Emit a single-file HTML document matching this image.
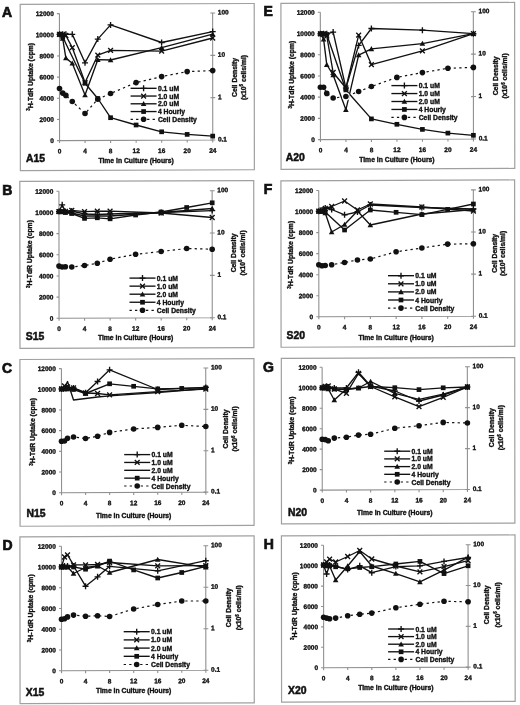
<!DOCTYPE html>
<html><head><meta charset="utf-8"><style>
html,body{margin:0;padding:0;background:#fff;}
svg{display:block;will-change:transform;}
text{font-family:"Liberation Sans", sans-serif;font-weight:bold;fill:#111;stroke:#111;stroke-width:0.35px;}
.tk{font-size:6.5px;}
.tt{font-size:6.8px;}
.sup{font-size:4.5px;}
.let{font-size:14px;stroke-width:0.7px;}
.nm{font-size:10.4px;stroke-width:0.5px;}
.box{fill:none;stroke:#a0a0a0;stroke-width:1.2;}
.ax{fill:none;stroke:#909090;stroke-width:1.1;}
.ln{fill:none;stroke:#111;stroke-width:1.35;stroke-linejoin:round;}
.dl{fill:none;stroke:#111;stroke-width:1.2;stroke-dasharray:2.3 3.2;}
.mk{fill:none;stroke:#111;stroke-width:1.35;}
.fm{fill:#111;stroke:none;}
</style></head><body>
<svg width="520" height="705" viewBox="0 0 520 705">
<g transform="matrix(1,-0.0038,0.001,1,-0.09,0.52)">
<rect x="20.3" y="3.95" width="234" height="166.25" class="box"/>
<path d="M59.5 13.3V140.3H212.7M212.7 13.3V140.3" class="ax"/>
<text x="53.9" y="142.7" class="tk" text-anchor="end">0</text>
<text x="53.9" y="121.53" class="tk" text-anchor="end">2000</text>
<text x="53.9" y="100.37" class="tk" text-anchor="end">4000</text>
<text x="53.9" y="79.2" class="tk" text-anchor="end">6000</text>
<text x="53.9" y="58.03" class="tk" text-anchor="end">8000</text>
<text x="53.9" y="36.87" class="tk" text-anchor="end">10000</text>
<text x="53.9" y="15.7" class="tk" text-anchor="end">12000</text>
<text x="217.9" y="141.8" class="tk">0.1</text>
<text x="217.9" y="99.47" class="tk">1</text>
<text x="217.9" y="57.13" class="tk">10</text>
<text x="217.9" y="14.8" class="tk">100</text>
<text x="59.5" y="153.1" class="tk" text-anchor="middle">0</text>
<text x="85.03" y="153.1" class="tk" text-anchor="middle">4</text>
<text x="110.57" y="153.1" class="tk" text-anchor="middle">8</text>
<text x="136.1" y="153.1" class="tk" text-anchor="middle">12</text>
<text x="161.63" y="153.1" class="tk" text-anchor="middle">16</text>
<text x="187.17" y="153.1" class="tk" text-anchor="middle">20</text>
<text x="212.7" y="153.1" class="tk" text-anchor="middle">24</text>
<path d="M57 140.3H59.5M57 119.13H59.5M57 97.97H59.5M57 76.8H59.5M57 55.63H59.5M57 34.47H59.5M57 13.3H59.5M210.4 140.3H215.2M210.4 97.97H215.2M210.4 55.63H215.2M210.4 13.3H215.2M59.5 140.3V142.8M85.03 140.3V142.8M110.57 140.3V142.8M136.1 140.3V142.8M161.63 140.3V142.8M187.17 140.3V142.8M212.7 140.3V142.8" class="ax"/>
</g>
<text x="2" y="17" class="let">A</text>
<text transform="translate(32.6 76.8) rotate(-90)" class="tt" text-anchor="middle"><tspan class="sup" dy="-2.2">3</tspan><tspan dy="2.2">H-TdR Uptake (cpm)</tspan></text>
<text transform="translate(236.9 77.5) rotate(-90)" class="tt" text-anchor="middle">Cell Density</text>
<text transform="translate(245.65 77.5) rotate(-90)" class="tt" text-anchor="middle">(x10<tspan class="sup" dy="-2.2">6</tspan><tspan dy="2.2"> cells/ml)</tspan></text>
<text x="136.1" y="163.2" class="tt" text-anchor="middle">Time in Culture (Hours)</text>
<text x="26" y="161.8" class="nm">A15</text>
<polyline points="59.5,88.5 62.69,93.1 65.88,95.4 72.27,101.5 85.03,113.5 97.8,99.2 110.57,93.5 136.1,82.6 161.63,76.6 187.17,71.6 212.7,70.6" class="dl"/>
<circle cx="59.5" cy="88.5" r="2.8" class="fm"/>
<circle cx="62.69" cy="93.1" r="2.8" class="fm"/>
<circle cx="65.88" cy="95.4" r="2.8" class="fm"/>
<circle cx="72.27" cy="101.5" r="2.8" class="fm"/>
<circle cx="85.03" cy="113.5" r="2.8" class="fm"/>
<circle cx="97.8" cy="99.2" r="2.8" class="fm"/>
<circle cx="110.57" cy="93.5" r="2.8" class="fm"/>
<circle cx="136.1" cy="82.6" r="2.8" class="fm"/>
<circle cx="161.63" cy="76.6" r="2.8" class="fm"/>
<circle cx="187.17" cy="71.6" r="2.8" class="fm"/>
<circle cx="212.7" cy="70.6" r="2.8" class="fm"/>
<polyline points="59.5,34.3 62.69,37 85.03,83.3 97.8,98.5 110.57,117.7 136.1,125 161.63,131.8 187.17,134.4 212.7,136.1" class="ln"/>
<rect x="57.15" y="31.95" width="4.7" height="4.7" class="fm"/>
<rect x="60.34" y="34.65" width="4.7" height="4.7" class="fm"/>
<rect x="82.68" y="80.95" width="4.7" height="4.7" class="fm"/>
<rect x="95.45" y="96.15" width="4.7" height="4.7" class="fm"/>
<rect x="108.22" y="115.35" width="4.7" height="4.7" class="fm"/>
<rect x="133.75" y="122.65" width="4.7" height="4.7" class="fm"/>
<rect x="159.28" y="129.45" width="4.7" height="4.7" class="fm"/>
<rect x="184.82" y="132.05" width="4.7" height="4.7" class="fm"/>
<rect x="210.35" y="133.75" width="4.7" height="4.7" class="fm"/>
<polyline points="59.5,34.3 62.69,38.5 65.88,58.1 72.27,63.2 85.03,95.1 97.8,59.7 110.57,60 161.63,47.7 212.7,34.2" class="ln"/>
<path d="M59.5 31.5L62.3 36.54L56.7 36.54Z" class="fm"/>
<path d="M62.69 35.7L65.49 40.74L59.89 40.74Z" class="fm"/>
<path d="M65.88 55.3L68.68 60.34L63.08 60.34Z" class="fm"/>
<path d="M72.27 60.4L75.07 65.44L69.47 65.44Z" class="fm"/>
<path d="M85.03 92.3L87.83 97.34L82.23 97.34Z" class="fm"/>
<path d="M97.8 56.9L100.6 61.94L95 61.94Z" class="fm"/>
<path d="M110.57 57.2L113.37 62.24L107.77 62.24Z" class="fm"/>
<path d="M161.63 44.9L164.43 49.94L158.83 49.94Z" class="fm"/>
<path d="M212.7 31.4L215.5 36.44L209.9 36.44Z" class="fm"/>
<polyline points="59.5,34.3 62.69,34.5 65.88,35.5 72.27,47.6 85.03,82.5 97.8,55.2 110.57,50.3 161.63,51.2 212.7,38" class="ln"/>
<path d="M57.1 31.9L61.9 36.7M57.1 36.7L61.9 31.9" class="mk"/>
<path d="M60.29 32.1L65.09 36.9M60.29 36.9L65.09 32.1" class="mk"/>
<path d="M63.48 33.1L68.28 37.9M63.48 37.9L68.28 33.1" class="mk"/>
<path d="M69.87 45.2L74.67 50M69.87 50L74.67 45.2" class="mk"/>
<path d="M82.63 80.1L87.43 84.9M82.63 84.9L87.43 80.1" class="mk"/>
<path d="M95.4 52.8L100.2 57.6M95.4 57.6L100.2 52.8" class="mk"/>
<path d="M108.17 47.9L112.97 52.7M108.17 52.7L112.97 47.9" class="mk"/>
<path d="M159.23 48.8L164.03 53.6M159.23 53.6L164.03 48.8" class="mk"/>
<path d="M210.3 35.6L215.1 40.4M210.3 40.4L215.1 35.6" class="mk"/>
<polyline points="59.5,34.3 62.69,34.3 65.88,34.3 72.27,34.3 85.03,62.8 97.8,39.1 110.57,24.9 161.63,42.5 212.7,31.6" class="ln"/>
<path d="M56.5 34.3H62.5M59.5 31.3V37.3" class="mk"/>
<path d="M59.69 34.3H65.69M62.69 31.3V37.3" class="mk"/>
<path d="M62.88 34.3H68.88M65.88 31.3V37.3" class="mk"/>
<path d="M69.27 34.3H75.27M72.27 31.3V37.3" class="mk"/>
<path d="M82.03 62.8H88.03M85.03 59.8V65.8" class="mk"/>
<path d="M94.8 39.1H100.8M97.8 36.1V42.1" class="mk"/>
<path d="M107.57 24.9H113.57M110.57 21.9V27.9" class="mk"/>
<path d="M158.63 42.5H164.63M161.63 39.5V45.5" class="mk"/>
<path d="M209.7 31.6H215.7M212.7 28.6V34.6" class="mk"/>
<path d="M130.6 88.3H156.6" class="ln"/>
<path d="M140.6 88.3H146.6M143.6 85.3V91.3" class="mk"/>
<text x="157.9" y="90.8" class="tt">0.1 uM</text>
<path d="M130.6 96.05H156.6" class="ln"/>
<path d="M141.2 93.65L146 98.45M141.2 98.45L146 93.65" class="mk"/>
<text x="157.9" y="98.55" class="tt">1.0 uM</text>
<path d="M130.6 103.8H156.6" class="ln"/>
<path d="M143.6 101L146.4 106.04L140.8 106.04Z" class="fm"/>
<text x="157.9" y="106.3" class="tt">2.0 uM</text>
<path d="M130.6 111.55H156.6" class="ln"/>
<rect x="141.25" y="109.2" width="4.7" height="4.7" class="fm"/>
<text x="157.9" y="114.05" class="tt">4 Hourly</text>
<path d="M130.6 119.3H156.6" class="dl"/>
<circle cx="143.6" cy="119.3" r="2.8" class="fm"/>
<text x="157.9" y="121.8" class="tt">Cell Density</text>
<g transform="matrix(1,-0.0038,0.001,1,-0.26,0.52)">
<rect x="19.9" y="181" width="233.9" height="167" class="box"/>
<path d="M59 191V318H212.2M212.2 191V318" class="ax"/>
<text x="53.4" y="320.4" class="tk" text-anchor="end">0</text>
<text x="53.4" y="299.23" class="tk" text-anchor="end">2000</text>
<text x="53.4" y="278.07" class="tk" text-anchor="end">4000</text>
<text x="53.4" y="256.9" class="tk" text-anchor="end">6000</text>
<text x="53.4" y="235.73" class="tk" text-anchor="end">8000</text>
<text x="53.4" y="214.57" class="tk" text-anchor="end">10000</text>
<text x="53.4" y="193.4" class="tk" text-anchor="end">12000</text>
<text x="217.4" y="319.5" class="tk">0.1</text>
<text x="217.4" y="277.17" class="tk">1</text>
<text x="217.4" y="234.83" class="tk">10</text>
<text x="217.4" y="192.5" class="tk">100</text>
<text x="59" y="330.8" class="tk" text-anchor="middle">0</text>
<text x="84.53" y="330.8" class="tk" text-anchor="middle">4</text>
<text x="110.07" y="330.8" class="tk" text-anchor="middle">8</text>
<text x="135.6" y="330.8" class="tk" text-anchor="middle">12</text>
<text x="161.13" y="330.8" class="tk" text-anchor="middle">16</text>
<text x="186.67" y="330.8" class="tk" text-anchor="middle">20</text>
<text x="212.2" y="330.8" class="tk" text-anchor="middle">24</text>
<path d="M56.5 318H59M56.5 296.83H59M56.5 275.67H59M56.5 254.5H59M56.5 233.33H59M56.5 212.17H59M56.5 191H59M209.9 318H214.7M209.9 275.67H214.7M209.9 233.33H214.7M209.9 191H214.7M59 318V320.5M84.53 318V320.5M110.07 318V320.5M135.6 318V320.5M161.13 318V320.5M186.67 318V320.5M212.2 318V320.5" class="ax"/>
</g>
<text x="2.3" y="194.8" class="let">B</text>
<text transform="translate(31.9 254) rotate(-90)" class="tt" text-anchor="middle"><tspan class="sup" dy="-2.2">3</tspan><tspan dy="2.2">H-TdR Uptake (cpm)</tspan></text>
<text transform="translate(235.5 252.9) rotate(-90)" class="tt" text-anchor="middle">Cell Density</text>
<text transform="translate(244.5 252.9) rotate(-90)" class="tt" text-anchor="middle">(x10<tspan class="sup" dy="-2.2">6</tspan><tspan dy="2.2"> cells/ml)</tspan></text>
<text x="135.6" y="340.1" class="tt" text-anchor="middle">Time in Culture (Hours)</text>
<text x="25.8" y="339.7" class="nm">S15</text>
<polyline points="59,266.1 62.19,267 65.38,266.8 71.77,267 84.53,265.5 97.3,263.3 110.07,259.2 135.6,254.3 161.13,251.5 186.67,248.5 212.2,249.2" class="dl"/>
<circle cx="59" cy="266.1" r="2.8" class="fm"/>
<circle cx="62.19" cy="267" r="2.8" class="fm"/>
<circle cx="65.38" cy="266.8" r="2.8" class="fm"/>
<circle cx="71.77" cy="267" r="2.8" class="fm"/>
<circle cx="84.53" cy="265.5" r="2.8" class="fm"/>
<circle cx="97.3" cy="263.3" r="2.8" class="fm"/>
<circle cx="110.07" cy="259.2" r="2.8" class="fm"/>
<circle cx="135.6" cy="254.3" r="2.8" class="fm"/>
<circle cx="161.13" cy="251.5" r="2.8" class="fm"/>
<circle cx="186.67" cy="248.5" r="2.8" class="fm"/>
<circle cx="212.2" cy="249.2" r="2.8" class="fm"/>
<polyline points="59,211.6 62.19,211.8 65.38,212.5 71.77,213.5 84.53,218.4 97.3,217.8 110.07,218.8 135.6,215 161.13,212 186.67,207.5 212.2,202.8" class="ln"/>
<rect x="56.65" y="209.25" width="4.7" height="4.7" class="fm"/>
<rect x="59.84" y="209.45" width="4.7" height="4.7" class="fm"/>
<rect x="63.03" y="210.15" width="4.7" height="4.7" class="fm"/>
<rect x="69.42" y="211.15" width="4.7" height="4.7" class="fm"/>
<rect x="82.18" y="216.05" width="4.7" height="4.7" class="fm"/>
<rect x="94.95" y="215.45" width="4.7" height="4.7" class="fm"/>
<rect x="107.72" y="216.45" width="4.7" height="4.7" class="fm"/>
<rect x="133.25" y="212.65" width="4.7" height="4.7" class="fm"/>
<rect x="158.78" y="209.65" width="4.7" height="4.7" class="fm"/>
<rect x="184.32" y="205.15" width="4.7" height="4.7" class="fm"/>
<rect x="209.85" y="200.45" width="4.7" height="4.7" class="fm"/>
<polyline points="59,211.6 62.19,211.6 65.38,212 71.77,213 84.53,216 97.3,216 110.07,216 161.13,212.5 212.2,208.5" class="ln"/>
<path d="M59 208.8L61.8 213.84L56.2 213.84Z" class="fm"/>
<path d="M62.19 208.8L64.99 213.84L59.39 213.84Z" class="fm"/>
<path d="M65.38 209.2L68.18 214.24L62.58 214.24Z" class="fm"/>
<path d="M71.77 210.2L74.57 215.24L68.97 215.24Z" class="fm"/>
<path d="M84.53 213.2L87.33 218.24L81.73 218.24Z" class="fm"/>
<path d="M97.3 213.2L100.1 218.24L94.5 218.24Z" class="fm"/>
<path d="M110.07 213.2L112.87 218.24L107.27 218.24Z" class="fm"/>
<path d="M161.13 209.7L163.93 214.74L158.33 214.74Z" class="fm"/>
<path d="M212.2 205.7L215 210.74L209.4 210.74Z" class="fm"/>
<polyline points="59,211.6 62.19,211 65.38,211.5 71.77,210.4 84.53,211.6 97.3,211.2 110.07,211.2 161.13,213 212.2,217.5" class="ln"/>
<path d="M56.6 209.2L61.4 214M56.6 214L61.4 209.2" class="mk"/>
<path d="M59.79 208.6L64.59 213.4M59.79 213.4L64.59 208.6" class="mk"/>
<path d="M62.98 209.1L67.78 213.9M62.98 213.9L67.78 209.1" class="mk"/>
<path d="M69.37 208L74.17 212.8M69.37 212.8L74.17 208" class="mk"/>
<path d="M82.13 209.2L86.93 214M82.13 214L86.93 209.2" class="mk"/>
<path d="M94.9 208.8L99.7 213.6M94.9 213.6L99.7 208.8" class="mk"/>
<path d="M107.67 208.8L112.47 213.6M107.67 213.6L112.47 208.8" class="mk"/>
<path d="M158.73 210.6L163.53 215.4M158.73 215.4L163.53 210.6" class="mk"/>
<path d="M209.8 215.1L214.6 219.9M209.8 219.9L214.6 215.1" class="mk"/>
<polyline points="59,211.6 62.19,204.8 65.38,211.5 71.77,211 84.53,214 97.3,214.5 110.07,214 161.13,212.5 212.2,210.6" class="ln"/>
<path d="M56 211.6H62M59 208.6V214.6" class="mk"/>
<path d="M59.19 204.8H65.19M62.19 201.8V207.8" class="mk"/>
<path d="M62.38 211.5H68.38M65.38 208.5V214.5" class="mk"/>
<path d="M68.77 211H74.77M71.77 208V214" class="mk"/>
<path d="M81.53 214H87.53M84.53 211V217" class="mk"/>
<path d="M94.3 214.5H100.3M97.3 211.5V217.5" class="mk"/>
<path d="M107.07 214H113.07M110.07 211V217" class="mk"/>
<path d="M158.13 212.5H164.13M161.13 209.5V215.5" class="mk"/>
<path d="M209.2 210.6H215.2M212.2 207.6V213.6" class="mk"/>
<path d="M129.5 278.1H155.5" class="ln"/>
<path d="M139.5 278.1H145.5M142.5 275.1V281.1" class="mk"/>
<text x="156.8" y="280.6" class="tt">0.1 uM</text>
<path d="M129.5 286.15H155.5" class="ln"/>
<path d="M140.1 283.75L144.9 288.55M140.1 288.55L144.9 283.75" class="mk"/>
<text x="156.8" y="288.65" class="tt">1.0 uM</text>
<path d="M129.5 294.2H155.5" class="ln"/>
<path d="M142.5 291.4L145.3 296.44L139.7 296.44Z" class="fm"/>
<text x="156.8" y="296.7" class="tt">2.0 uM</text>
<path d="M129.5 302.25H155.5" class="ln"/>
<rect x="140.15" y="299.9" width="4.7" height="4.7" class="fm"/>
<text x="156.8" y="304.75" class="tt">4 Hourly</text>
<path d="M129.5 310.3H155.5" class="dl"/>
<circle cx="142.5" cy="310.3" r="2.8" class="fm"/>
<text x="156.8" y="312.8" class="tt">Cell Density</text>
<g transform="matrix(1,-0.0038,0.001,1,-0.44,0.52)">
<rect x="20" y="359.05" width="234" height="166.75" class="box"/>
<path d="M61.5 368.3V492.4H205.8M205.8 368.3V492.4" class="ax"/>
<text x="55.9" y="494.8" class="tk" text-anchor="end">0</text>
<text x="55.9" y="474.12" class="tk" text-anchor="end">2000</text>
<text x="55.9" y="453.43" class="tk" text-anchor="end">4000</text>
<text x="55.9" y="432.75" class="tk" text-anchor="end">6000</text>
<text x="55.9" y="412.07" class="tk" text-anchor="end">8000</text>
<text x="55.9" y="391.38" class="tk" text-anchor="end">10000</text>
<text x="55.9" y="370.7" class="tk" text-anchor="end">12000</text>
<text x="211" y="493.9" class="tk">0.1</text>
<text x="211" y="452.53" class="tk">1</text>
<text x="211" y="411.17" class="tk">10</text>
<text x="211" y="369.8" class="tk">100</text>
<text x="61.5" y="505.2" class="tk" text-anchor="middle">0</text>
<text x="85.55" y="505.2" class="tk" text-anchor="middle">4</text>
<text x="109.6" y="505.2" class="tk" text-anchor="middle">8</text>
<text x="133.65" y="505.2" class="tk" text-anchor="middle">12</text>
<text x="157.7" y="505.2" class="tk" text-anchor="middle">16</text>
<text x="181.75" y="505.2" class="tk" text-anchor="middle">20</text>
<text x="205.8" y="505.2" class="tk" text-anchor="middle">24</text>
<path d="M59 492.4H61.5M59 471.72H61.5M59 451.03H61.5M59 430.35H61.5M59 409.67H61.5M59 388.98H61.5M59 368.3H61.5M203.5 492.4H208.3M203.5 451.03H208.3M203.5 409.67H208.3M203.5 368.3H208.3M61.5 492.4V494.9M85.55 492.4V494.9M109.6 492.4V494.9M133.65 492.4V494.9M157.7 492.4V494.9M181.75 492.4V494.9M205.8 492.4V494.9" class="ax"/>
</g>
<text x="2" y="372.5" class="let">C</text>
<text transform="translate(34.9 431.85) rotate(-90)" class="tt" text-anchor="middle"><tspan class="sup" dy="-2.2">3</tspan><tspan dy="2.2">H-TdR Uptake (cpm)</tspan></text>
<text transform="translate(227.7 428.95) rotate(-90)" class="tt" text-anchor="middle">Cell Density</text>
<text transform="translate(236.8 428.95) rotate(-90)" class="tt" text-anchor="middle">(x10<tspan class="sup" dy="-2.2">6</tspan><tspan dy="2.2"> cells/ml)</tspan></text>
<text x="133.65" y="517.5" class="tt" text-anchor="middle">Time in Culture (Hours)</text>
<text x="26.5" y="516.6" class="nm">N15</text>
<polyline points="61.5,441.3 64.51,441 67.51,438.2 73.53,437 85.55,438.5 97.58,436.2 109.6,432.4 133.65,429 157.7,427.4 181.75,425.3 205.8,426.5" class="dl"/>
<circle cx="61.5" cy="441.3" r="2.8" class="fm"/>
<circle cx="64.51" cy="441" r="2.8" class="fm"/>
<circle cx="67.51" cy="438.2" r="2.8" class="fm"/>
<circle cx="73.53" cy="437" r="2.8" class="fm"/>
<circle cx="85.55" cy="438.5" r="2.8" class="fm"/>
<circle cx="97.58" cy="436.2" r="2.8" class="fm"/>
<circle cx="109.6" cy="432.4" r="2.8" class="fm"/>
<circle cx="133.65" cy="429" r="2.8" class="fm"/>
<circle cx="157.7" cy="427.4" r="2.8" class="fm"/>
<circle cx="181.75" cy="425.3" r="2.8" class="fm"/>
<circle cx="205.8" cy="426.5" r="2.8" class="fm"/>
<polyline points="61.5,389 64.51,389 67.51,389 73.53,389.5 85.55,393.5 109.6,383.8 133.65,386.3 157.7,388.9 181.75,388.4 205.8,387.8" class="ln"/>
<rect x="59.15" y="386.65" width="4.7" height="4.7" class="fm"/>
<rect x="62.16" y="386.65" width="4.7" height="4.7" class="fm"/>
<rect x="65.16" y="386.65" width="4.7" height="4.7" class="fm"/>
<rect x="71.18" y="387.15" width="4.7" height="4.7" class="fm"/>
<rect x="83.2" y="391.15" width="4.7" height="4.7" class="fm"/>
<rect x="107.25" y="381.45" width="4.7" height="4.7" class="fm"/>
<rect x="131.3" y="383.95" width="4.7" height="4.7" class="fm"/>
<rect x="155.35" y="386.55" width="4.7" height="4.7" class="fm"/>
<rect x="179.4" y="386.05" width="4.7" height="4.7" class="fm"/>
<rect x="203.45" y="385.45" width="4.7" height="4.7" class="fm"/>
<polyline points="61.5,389 64.51,388 67.51,381.5 73.53,400 85.55,398.5 97.58,397 109.6,395.8 157.7,392.5 205.8,388.5" class="ln"/>
<polyline points="61.5,389 64.51,386 67.51,387 73.53,388 85.55,393 97.58,393.5 109.6,394.8 157.7,391.6 205.8,389.1" class="ln"/>
<path d="M59.1 386.6L63.9 391.4M59.1 391.4L63.9 386.6" class="mk"/>
<path d="M62.11 383.6L66.91 388.4M62.11 388.4L66.91 383.6" class="mk"/>
<path d="M65.11 384.6L69.91 389.4M65.11 389.4L69.91 384.6" class="mk"/>
<path d="M71.12 385.6L75.93 390.4M71.12 390.4L75.93 385.6" class="mk"/>
<path d="M83.15 390.6L87.95 395.4M83.15 395.4L87.95 390.6" class="mk"/>
<path d="M95.17 391.1L99.98 395.9M95.17 395.9L99.98 391.1" class="mk"/>
<path d="M107.2 392.4L112 397.2M107.2 397.2L112 392.4" class="mk"/>
<path d="M155.3 389.2L160.1 394M155.3 394L160.1 389.2" class="mk"/>
<path d="M203.4 386.7L208.2 391.5M203.4 391.5L208.2 386.7" class="mk"/>
<polyline points="61.5,389 64.51,388 67.51,388 73.53,388 85.55,392.7 97.58,381.5 109.6,369.8 157.7,389.5 205.8,387.4" class="ln"/>
<path d="M58.5 389H64.5M61.5 386V392" class="mk"/>
<path d="M61.51 388H67.51M64.51 385V391" class="mk"/>
<path d="M64.51 388H70.51M67.51 385V391" class="mk"/>
<path d="M70.53 388H76.53M73.53 385V391" class="mk"/>
<path d="M82.55 392.7H88.55M85.55 389.7V395.7" class="mk"/>
<path d="M94.58 381.5H100.58M97.58 378.5V384.5" class="mk"/>
<path d="M106.6 369.8H112.6M109.6 366.8V372.8" class="mk"/>
<path d="M154.7 389.5H160.7M157.7 386.5V392.5" class="mk"/>
<path d="M202.8 387.4H208.8M205.8 384.4V390.4" class="mk"/>
<path d="M124.2 454.6H150.2" class="ln"/>
<path d="M134.2 454.6H140.2M137.2 451.6V457.6" class="mk"/>
<text x="151.5" y="457.1" class="tt">0.1 uM</text>
<path d="M124.2 462.45H150.2" class="ln"/>
<path d="M134.8 460.05L139.6 464.85M134.8 464.85L139.6 460.05" class="mk"/>
<text x="151.5" y="464.95" class="tt">1.0 uM</text>
<path d="M124.2 470.3H150.2" class="ln"/>
<text x="151.5" y="472.8" class="tt">2.0 uM</text>
<path d="M124.2 478.15H150.2" class="ln"/>
<rect x="134.85" y="475.8" width="4.7" height="4.7" class="fm"/>
<text x="151.5" y="480.65" class="tt">4 Hourly</text>
<path d="M124.2 486H150.2" class="dl"/>
<circle cx="137.2" cy="486" r="2.8" class="fm"/>
<text x="151.5" y="488.5" class="tt">Cell Density</text>
<g transform="matrix(1,-0.0038,0.001,1,-0.62,0.52)">
<rect x="20" y="536.35" width="234.2" height="166.9" class="box"/>
<path d="M61.5 546V670.5H205.8M205.8 546V670.5" class="ax"/>
<text x="55.9" y="672.9" class="tk" text-anchor="end">0</text>
<text x="55.9" y="652.15" class="tk" text-anchor="end">2000</text>
<text x="55.9" y="631.4" class="tk" text-anchor="end">4000</text>
<text x="55.9" y="610.65" class="tk" text-anchor="end">6000</text>
<text x="55.9" y="589.9" class="tk" text-anchor="end">8000</text>
<text x="55.9" y="569.15" class="tk" text-anchor="end">10000</text>
<text x="55.9" y="548.4" class="tk" text-anchor="end">12000</text>
<text x="211" y="672" class="tk">0.1</text>
<text x="211" y="630.5" class="tk">1</text>
<text x="211" y="589" class="tk">10</text>
<text x="211" y="547.5" class="tk">100</text>
<text x="61.5" y="683.3" class="tk" text-anchor="middle">0</text>
<text x="85.55" y="683.3" class="tk" text-anchor="middle">4</text>
<text x="109.6" y="683.3" class="tk" text-anchor="middle">8</text>
<text x="133.65" y="683.3" class="tk" text-anchor="middle">12</text>
<text x="157.7" y="683.3" class="tk" text-anchor="middle">16</text>
<text x="181.75" y="683.3" class="tk" text-anchor="middle">20</text>
<text x="205.8" y="683.3" class="tk" text-anchor="middle">24</text>
<path d="M59 670.5H61.5M59 649.75H61.5M59 629H61.5M59 608.25H61.5M59 587.5H61.5M59 566.75H61.5M59 546H61.5M203.5 670.5H208.3M203.5 629H208.3M203.5 587.5H208.3M203.5 546H208.3M61.5 670.5V673M85.55 670.5V673M109.6 670.5V673M133.65 670.5V673M157.7 670.5V673M181.75 670.5V673M205.8 670.5V673" class="ax"/>
</g>
<text x="2.5" y="550.2" class="let">D</text>
<text transform="translate(32.8 608.25) rotate(-90)" class="tt" text-anchor="middle"><tspan class="sup" dy="-2.2">3</tspan><tspan dy="2.2">H-TdR Uptake (cpm)</tspan></text>
<text transform="translate(231.1 607.75) rotate(-90)" class="tt" text-anchor="middle">Cell Density</text>
<text transform="translate(240.8 607.75) rotate(-90)" class="tt" text-anchor="middle">(x10<tspan class="sup" dy="-2.2">6</tspan><tspan dy="2.2"> cells/ml)</tspan></text>
<text x="133.65" y="693.2" class="tt" text-anchor="middle">Time in Culture (Hours)</text>
<text x="25.8" y="695.8" class="nm">X15</text>
<polyline points="61.5,619.2 64.51,618.8 67.51,616.9 73.53,615.1 85.55,616.2 97.58,615.8 109.6,616.5 133.65,609 157.7,604.5 181.75,601 205.8,601" class="dl"/>
<circle cx="61.5" cy="619.2" r="2.8" class="fm"/>
<circle cx="64.51" cy="618.8" r="2.8" class="fm"/>
<circle cx="67.51" cy="616.9" r="2.8" class="fm"/>
<circle cx="73.53" cy="615.1" r="2.8" class="fm"/>
<circle cx="85.55" cy="616.2" r="2.8" class="fm"/>
<circle cx="97.58" cy="615.8" r="2.8" class="fm"/>
<circle cx="109.6" cy="616.5" r="2.8" class="fm"/>
<circle cx="133.65" cy="609" r="2.8" class="fm"/>
<circle cx="157.7" cy="604.5" r="2.8" class="fm"/>
<circle cx="181.75" cy="601" r="2.8" class="fm"/>
<circle cx="205.8" cy="601" r="2.8" class="fm"/>
<polyline points="61.5,566.9 64.51,567 67.51,567 73.53,567 85.55,569.2 97.58,566 109.6,561.1 133.65,569.9 157.7,578 181.75,572.5 205.8,566.4" class="ln"/>
<rect x="59.15" y="564.55" width="4.7" height="4.7" class="fm"/>
<rect x="62.16" y="564.65" width="4.7" height="4.7" class="fm"/>
<rect x="65.16" y="564.65" width="4.7" height="4.7" class="fm"/>
<rect x="71.18" y="564.65" width="4.7" height="4.7" class="fm"/>
<rect x="83.2" y="566.85" width="4.7" height="4.7" class="fm"/>
<rect x="95.23" y="563.65" width="4.7" height="4.7" class="fm"/>
<rect x="107.25" y="558.75" width="4.7" height="4.7" class="fm"/>
<rect x="131.3" y="567.55" width="4.7" height="4.7" class="fm"/>
<rect x="155.35" y="575.65" width="4.7" height="4.7" class="fm"/>
<rect x="179.4" y="570.15" width="4.7" height="4.7" class="fm"/>
<rect x="203.45" y="564.05" width="4.7" height="4.7" class="fm"/>
<polyline points="61.5,566.9 64.51,567 67.51,567 73.53,573.5 85.55,567.5 97.58,566 109.6,572.5 157.7,559.5 205.8,567.3" class="ln"/>
<path d="M61.5 564.1L64.3 569.14L58.7 569.14Z" class="fm"/>
<path d="M64.51 564.2L67.31 569.24L61.71 569.24Z" class="fm"/>
<path d="M67.51 564.2L70.31 569.24L64.71 569.24Z" class="fm"/>
<path d="M73.53 570.7L76.33 575.74L70.73 575.74Z" class="fm"/>
<path d="M85.55 564.7L88.35 569.74L82.75 569.74Z" class="fm"/>
<path d="M97.58 563.2L100.38 568.24L94.78 568.24Z" class="fm"/>
<path d="M109.6 569.7L112.4 574.74L106.8 574.74Z" class="fm"/>
<path d="M157.7 556.7L160.5 561.74L154.9 561.74Z" class="fm"/>
<path d="M205.8 564.5L208.6 569.54L203 569.54Z" class="fm"/>
<polyline points="61.5,566.9 64.51,557 67.51,555 73.53,564.8 85.55,564.8 97.58,564.5 109.6,562.5 157.7,565.9 205.8,565.6" class="ln"/>
<path d="M59.1 564.5L63.9 569.3M59.1 569.3L63.9 564.5" class="mk"/>
<path d="M62.11 554.6L66.91 559.4M62.11 559.4L66.91 554.6" class="mk"/>
<path d="M65.11 552.6L69.91 557.4M65.11 557.4L69.91 552.6" class="mk"/>
<path d="M71.12 562.4L75.93 567.2M71.12 567.2L75.93 562.4" class="mk"/>
<path d="M83.15 562.4L87.95 567.2M83.15 567.2L87.95 562.4" class="mk"/>
<path d="M95.17 562.1L99.98 566.9M95.17 566.9L99.98 562.1" class="mk"/>
<path d="M107.2 560.1L112 564.9M107.2 564.9L112 560.1" class="mk"/>
<path d="M155.3 563.5L160.1 568.3M155.3 568.3L160.1 563.5" class="mk"/>
<path d="M203.4 563.2L208.2 568M203.4 568L208.2 563.2" class="mk"/>
<polyline points="61.5,566.9 64.51,566 67.51,566 73.53,566 85.55,586.2 97.58,576.8 109.6,566.3 157.7,570.8 205.8,560.7" class="ln"/>
<path d="M58.5 566.9H64.5M61.5 563.9V569.9" class="mk"/>
<path d="M61.51 566H67.51M64.51 563V569" class="mk"/>
<path d="M64.51 566H70.51M67.51 563V569" class="mk"/>
<path d="M70.53 566H76.53M73.53 563V569" class="mk"/>
<path d="M82.55 586.2H88.55M85.55 583.2V589.2" class="mk"/>
<path d="M94.58 576.8H100.58M97.58 573.8V579.8" class="mk"/>
<path d="M106.6 566.3H112.6M109.6 563.3V569.3" class="mk"/>
<path d="M154.7 570.8H160.7M157.7 567.8V573.8" class="mk"/>
<path d="M202.8 560.7H208.8M205.8 557.7V563.7" class="mk"/>
<path d="M123.7 631.7H149.7" class="ln"/>
<path d="M133.7 631.7H139.7M136.7 628.7V634.7" class="mk"/>
<text x="151" y="634.2" class="tt">0.1 uM</text>
<path d="M123.7 639.9H149.7" class="ln"/>
<path d="M134.3 637.5L139.1 642.3M134.3 642.3L139.1 637.5" class="mk"/>
<text x="151" y="642.4" class="tt">1.0 uM</text>
<path d="M123.7 648.1H149.7" class="ln"/>
<path d="M136.7 645.3L139.5 650.34L133.9 650.34Z" class="fm"/>
<text x="151" y="650.6" class="tt">2.0 uM</text>
<path d="M123.7 656.3H149.7" class="ln"/>
<rect x="134.35" y="653.95" width="4.7" height="4.7" class="fm"/>
<text x="151" y="658.8" class="tt">4 Hourly</text>
<path d="M123.7 664.5H149.7" class="dl"/>
<circle cx="136.7" cy="664.5" r="2.8" class="fm"/>
<text x="151" y="667" class="tt">Cell Density</text>
<g transform="matrix(1,-0.0038,0.001,1,-0.09,1.51)">
<rect x="281" y="2.9" width="233.7" height="166" class="box"/>
<path d="M320.4 12V139.3H473.4M473.4 12V139.3" class="ax"/>
<text x="314.8" y="141.7" class="tk" text-anchor="end">0</text>
<text x="314.8" y="120.48" class="tk" text-anchor="end">2000</text>
<text x="314.8" y="99.27" class="tk" text-anchor="end">4000</text>
<text x="314.8" y="78.05" class="tk" text-anchor="end">6000</text>
<text x="314.8" y="56.83" class="tk" text-anchor="end">8000</text>
<text x="314.8" y="35.62" class="tk" text-anchor="end">10000</text>
<text x="314.8" y="14.4" class="tk" text-anchor="end">12000</text>
<text x="478.6" y="140.8" class="tk">0.1</text>
<text x="478.6" y="98.37" class="tk">1</text>
<text x="478.6" y="55.93" class="tk">10</text>
<text x="478.6" y="13.5" class="tk">100</text>
<text x="320.4" y="152.1" class="tk" text-anchor="middle">0</text>
<text x="345.9" y="152.1" class="tk" text-anchor="middle">4</text>
<text x="371.4" y="152.1" class="tk" text-anchor="middle">8</text>
<text x="396.9" y="152.1" class="tk" text-anchor="middle">12</text>
<text x="422.4" y="152.1" class="tk" text-anchor="middle">16</text>
<text x="447.9" y="152.1" class="tk" text-anchor="middle">20</text>
<text x="473.4" y="152.1" class="tk" text-anchor="middle">24</text>
<path d="M317.9 139.3H320.4M317.9 118.08H320.4M317.9 96.87H320.4M317.9 75.65H320.4M317.9 54.43H320.4M317.9 33.22H320.4M317.9 12H320.4M471.1 139.3H475.9M471.1 96.87H475.9M471.1 54.43H475.9M471.1 12H475.9M320.4 139.3V141.8M345.9 139.3V141.8M371.4 139.3V141.8M396.9 139.3V141.8M422.4 139.3V141.8M447.9 139.3V141.8M473.4 139.3V141.8" class="ax"/>
</g>
<text x="263.5" y="16.3" class="let">E</text>
<text transform="translate(294 74.65) rotate(-90)" class="tt" text-anchor="middle"><tspan class="sup" dy="-2.2">3</tspan><tspan dy="2.2">H-TdR Uptake (cpm)</tspan></text>
<text transform="translate(497.9 75.85) rotate(-90)" class="tt" text-anchor="middle">Cell Density</text>
<text transform="translate(506.8 75.85) rotate(-90)" class="tt" text-anchor="middle">(x10<tspan class="sup" dy="-2.2">6</tspan><tspan dy="2.2"> cells/ml)</tspan></text>
<text x="396.9" y="162.1" class="tt" text-anchor="middle">Time in Culture (Hours)</text>
<text x="285.8" y="161.2" class="nm">A20</text>
<polyline points="320.4,87.2 323.59,87.2 326.77,93.4 333.15,98 345.9,96.5 358.65,91.5 371.4,86.5 396.9,77.4 422.4,72.6 447.9,68.3 473.4,67.4" class="dl"/>
<circle cx="320.4" cy="87.2" r="2.8" class="fm"/>
<circle cx="323.59" cy="87.2" r="2.8" class="fm"/>
<circle cx="326.77" cy="93.4" r="2.8" class="fm"/>
<circle cx="333.15" cy="98" r="2.8" class="fm"/>
<circle cx="345.9" cy="96.5" r="2.8" class="fm"/>
<circle cx="358.65" cy="91.5" r="2.8" class="fm"/>
<circle cx="371.4" cy="86.5" r="2.8" class="fm"/>
<circle cx="396.9" cy="77.4" r="2.8" class="fm"/>
<circle cx="422.4" cy="72.6" r="2.8" class="fm"/>
<circle cx="447.9" cy="68.3" r="2.8" class="fm"/>
<circle cx="473.4" cy="67.4" r="2.8" class="fm"/>
<polyline points="320.4,33.8 323.59,34 326.77,34.5 345.9,90 371.4,118.9 396.9,124.3 422.4,129.4 447.9,133.1 473.4,135.3" class="ln"/>
<rect x="318.05" y="31.45" width="4.7" height="4.7" class="fm"/>
<rect x="321.24" y="31.65" width="4.7" height="4.7" class="fm"/>
<rect x="324.42" y="32.15" width="4.7" height="4.7" class="fm"/>
<rect x="343.55" y="87.65" width="4.7" height="4.7" class="fm"/>
<rect x="369.05" y="116.55" width="4.7" height="4.7" class="fm"/>
<rect x="394.55" y="121.95" width="4.7" height="4.7" class="fm"/>
<rect x="420.05" y="127.05" width="4.7" height="4.7" class="fm"/>
<rect x="445.55" y="130.75" width="4.7" height="4.7" class="fm"/>
<rect x="471.05" y="132.95" width="4.7" height="4.7" class="fm"/>
<polyline points="320.4,33.8 323.59,39.2 326.77,64.7 333.15,75 345.9,109.7 358.65,55.1 371.4,48.9 422.4,43.6 473.4,33.7" class="ln"/>
<path d="M320.4 31L323.2 36.04L317.6 36.04Z" class="fm"/>
<path d="M323.59 36.4L326.39 41.44L320.79 41.44Z" class="fm"/>
<path d="M326.77 61.9L329.57 66.94L323.97 66.94Z" class="fm"/>
<path d="M333.15 72.2L335.95 77.24L330.35 77.24Z" class="fm"/>
<path d="M345.9 106.9L348.7 111.94L343.1 111.94Z" class="fm"/>
<path d="M358.65 52.3L361.45 57.34L355.85 57.34Z" class="fm"/>
<path d="M371.4 46.1L374.2 51.14L368.6 51.14Z" class="fm"/>
<path d="M422.4 40.8L425.2 45.84L419.6 45.84Z" class="fm"/>
<path d="M473.4 30.9L476.2 35.94L470.6 35.94Z" class="fm"/>
<polyline points="320.4,33.8 323.59,33.8 326.77,36 333.15,72.5 345.9,88 358.65,35.1 371.4,64.6 422.4,50.8 473.4,33.7" class="ln"/>
<path d="M318 31.4L322.8 36.2M318 36.2L322.8 31.4" class="mk"/>
<path d="M321.19 31.4L325.99 36.2M321.19 36.2L325.99 31.4" class="mk"/>
<path d="M324.38 33.6L329.17 38.4M324.38 38.4L329.17 33.6" class="mk"/>
<path d="M330.75 70.1L335.55 74.9M330.75 74.9L335.55 70.1" class="mk"/>
<path d="M343.5 85.6L348.3 90.4M343.5 90.4L348.3 85.6" class="mk"/>
<path d="M356.25 32.7L361.05 37.5M356.25 37.5L361.05 32.7" class="mk"/>
<path d="M369 62.2L373.8 67M369 67L373.8 62.2" class="mk"/>
<path d="M420 48.4L424.8 53.2M420 53.2L424.8 48.4" class="mk"/>
<path d="M471 31.3L475.8 36.1M471 36.1L475.8 31.3" class="mk"/>
<polyline points="320.4,33.8 323.59,33.8 326.77,33.8 333.15,32.1 345.9,88 358.65,45.4 371.4,28.5 422.4,30.2 473.4,33.7" class="ln"/>
<path d="M317.4 33.8H323.4M320.4 30.8V36.8" class="mk"/>
<path d="M320.59 33.8H326.59M323.59 30.8V36.8" class="mk"/>
<path d="M323.77 33.8H329.77M326.77 30.8V36.8" class="mk"/>
<path d="M330.15 32.1H336.15M333.15 29.1V35.1" class="mk"/>
<path d="M342.9 88H348.9M345.9 85V91" class="mk"/>
<path d="M355.65 45.4H361.65M358.65 42.4V48.4" class="mk"/>
<path d="M368.4 28.5H374.4M371.4 25.5V31.5" class="mk"/>
<path d="M419.4 30.2H425.4M422.4 27.2V33.2" class="mk"/>
<path d="M470.4 33.7H476.4M473.4 30.7V36.7" class="mk"/>
<circle cx="345.9" cy="96.5" r="3.9" fill="#fff"/>
<circle cx="345.9" cy="96.5" r="2.8" class="fm"/>
<path d="M391.4 85.6H417.4" class="ln"/>
<path d="M401.4 85.6H407.4M404.4 82.6V88.6" class="mk"/>
<text x="418.7" y="88.1" class="tt">0.1 uM</text>
<path d="M391.4 93.55H417.4" class="ln"/>
<path d="M402 91.15L406.8 95.95M402 95.95L406.8 91.15" class="mk"/>
<text x="418.7" y="96.05" class="tt">1.0 uM</text>
<path d="M391.4 101.5H417.4" class="ln"/>
<path d="M404.4 98.7L407.2 103.74L401.6 103.74Z" class="fm"/>
<text x="418.7" y="104" class="tt">2.0 uM</text>
<path d="M391.4 109.45H417.4" class="ln"/>
<rect x="402.05" y="107.1" width="4.7" height="4.7" class="fm"/>
<text x="418.7" y="111.95" class="tt">4 Hourly</text>
<path d="M391.4 117.4H417.4" class="dl"/>
<circle cx="404.4" cy="117.4" r="2.8" class="fm"/>
<text x="418.7" y="119.9" class="tt">Cell Density</text>
<g transform="matrix(1,-0.0038,0.001,1,-0.26,1.51)">
<rect x="281" y="180.4" width="233.7" height="166.4" class="box"/>
<path d="M318.8 190.2V316.5H473.4M473.4 190.2V316.5" class="ax"/>
<text x="313.2" y="318.9" class="tk" text-anchor="end">0</text>
<text x="313.2" y="297.85" class="tk" text-anchor="end">2000</text>
<text x="313.2" y="276.8" class="tk" text-anchor="end">4000</text>
<text x="313.2" y="255.75" class="tk" text-anchor="end">6000</text>
<text x="313.2" y="234.7" class="tk" text-anchor="end">8000</text>
<text x="313.2" y="213.65" class="tk" text-anchor="end">10000</text>
<text x="313.2" y="192.6" class="tk" text-anchor="end">12000</text>
<text x="478.6" y="318" class="tk">0.1</text>
<text x="478.6" y="275.9" class="tk">1</text>
<text x="478.6" y="233.8" class="tk">10</text>
<text x="478.6" y="191.7" class="tk">100</text>
<text x="318.8" y="329.3" class="tk" text-anchor="middle">0</text>
<text x="344.57" y="329.3" class="tk" text-anchor="middle">4</text>
<text x="370.33" y="329.3" class="tk" text-anchor="middle">8</text>
<text x="396.1" y="329.3" class="tk" text-anchor="middle">12</text>
<text x="421.87" y="329.3" class="tk" text-anchor="middle">16</text>
<text x="447.63" y="329.3" class="tk" text-anchor="middle">20</text>
<text x="473.4" y="329.3" class="tk" text-anchor="middle">24</text>
<path d="M316.3 316.5H318.8M316.3 295.45H318.8M316.3 274.4H318.8M316.3 253.35H318.8M316.3 232.3H318.8M316.3 211.25H318.8M316.3 190.2H318.8M471.1 316.5H475.9M471.1 274.4H475.9M471.1 232.3H475.9M471.1 190.2H475.9M318.8 316.5V319M344.57 316.5V319M370.33 316.5V319M396.1 316.5V319M421.87 316.5V319M447.63 316.5V319M473.4 316.5V319" class="ax"/>
</g>
<text x="263.8" y="194.2" class="let">F</text>
<text transform="translate(293 254.75) rotate(-90)" class="tt" text-anchor="middle"><tspan class="sup" dy="-2.2">3</tspan><tspan dy="2.2">H-TdR Uptake (cpm)</tspan></text>
<text transform="translate(496.6 253.35) rotate(-90)" class="tt" text-anchor="middle">Cell Density</text>
<text transform="translate(504.7 253.35) rotate(-90)" class="tt" text-anchor="middle">(x10<tspan class="sup" dy="-2.2">6</tspan><tspan dy="2.2"> cells/ml)</tspan></text>
<text x="396.1" y="339.8" class="tt" text-anchor="middle">Time in Culture (Hours)</text>
<text x="286.5" y="338.5" class="nm">S20</text>
<polyline points="318.8,264.7 322.02,265.7 325.24,265.5 331.68,264.7 344.57,262.5 357.45,260 370.33,259 396.1,251.8 421.87,248 447.63,244.1 473.4,243.8" class="dl"/>
<circle cx="318.8" cy="264.7" r="2.8" class="fm"/>
<circle cx="322.02" cy="265.7" r="2.8" class="fm"/>
<circle cx="325.24" cy="265.5" r="2.8" class="fm"/>
<circle cx="331.68" cy="264.7" r="2.8" class="fm"/>
<circle cx="344.57" cy="262.5" r="2.8" class="fm"/>
<circle cx="357.45" cy="260" r="2.8" class="fm"/>
<circle cx="370.33" cy="259" r="2.8" class="fm"/>
<circle cx="396.1" cy="251.8" r="2.8" class="fm"/>
<circle cx="421.87" cy="248" r="2.8" class="fm"/>
<circle cx="447.63" cy="244.1" r="2.8" class="fm"/>
<circle cx="473.4" cy="243.8" r="2.8" class="fm"/>
<polyline points="318.8,211.2 322.02,211.5 325.24,212 344.57,230 370.33,210 396.1,212.3 421.87,214.6 447.63,209.4 473.4,204" class="ln"/>
<rect x="316.45" y="208.85" width="4.7" height="4.7" class="fm"/>
<rect x="319.67" y="209.15" width="4.7" height="4.7" class="fm"/>
<rect x="322.89" y="209.65" width="4.7" height="4.7" class="fm"/>
<rect x="342.22" y="227.65" width="4.7" height="4.7" class="fm"/>
<rect x="367.98" y="207.65" width="4.7" height="4.7" class="fm"/>
<rect x="393.75" y="209.95" width="4.7" height="4.7" class="fm"/>
<rect x="419.52" y="212.25" width="4.7" height="4.7" class="fm"/>
<rect x="445.28" y="207.05" width="4.7" height="4.7" class="fm"/>
<rect x="471.05" y="201.65" width="4.7" height="4.7" class="fm"/>
<polyline points="318.8,211.2 322.02,211.5 325.24,213 331.68,232 344.57,224.5 357.45,211 370.33,225 421.87,214 473.4,209.5" class="ln"/>
<path d="M318.8 208.4L321.6 213.44L316 213.44Z" class="fm"/>
<path d="M322.02 208.7L324.82 213.74L319.22 213.74Z" class="fm"/>
<path d="M325.24 210.2L328.04 215.24L322.44 215.24Z" class="fm"/>
<path d="M331.68 229.2L334.48 234.24L328.88 234.24Z" class="fm"/>
<path d="M344.57 221.7L347.37 226.74L341.77 226.74Z" class="fm"/>
<path d="M357.45 208.2L360.25 213.24L354.65 213.24Z" class="fm"/>
<path d="M370.33 222.2L373.13 227.24L367.53 227.24Z" class="fm"/>
<path d="M421.87 211.2L424.67 216.24L419.07 216.24Z" class="fm"/>
<path d="M473.4 206.7L476.2 211.74L470.6 211.74Z" class="fm"/>
<polyline points="318.8,211.2 322.02,210 325.24,208.5 331.68,206.5 344.57,201 357.45,210 370.33,204 421.87,207 473.4,211" class="ln"/>
<path d="M316.4 208.8L321.2 213.6M316.4 213.6L321.2 208.8" class="mk"/>
<path d="M319.62 207.6L324.42 212.4M319.62 212.4L324.42 207.6" class="mk"/>
<path d="M322.84 206.1L327.64 210.9M322.84 210.9L327.64 206.1" class="mk"/>
<path d="M329.28 204.1L334.08 208.9M329.28 208.9L334.08 204.1" class="mk"/>
<path d="M342.17 198.6L346.97 203.4M342.17 203.4L346.97 198.6" class="mk"/>
<path d="M355.05 207.6L359.85 212.4M355.05 212.4L359.85 207.6" class="mk"/>
<path d="M367.93 201.6L372.73 206.4M367.93 206.4L372.73 201.6" class="mk"/>
<path d="M419.47 204.6L424.27 209.4M419.47 209.4L424.27 204.6" class="mk"/>
<path d="M471 208.6L475.8 213.4M471 213.4L475.8 208.6" class="mk"/>
<polyline points="318.8,211.2 322.02,210 325.24,208 331.68,209.5 344.57,214.8 357.45,212 370.33,205 421.87,207.5 473.4,209" class="ln"/>
<path d="M315.8 211.2H321.8M318.8 208.2V214.2" class="mk"/>
<path d="M319.02 210H325.02M322.02 207V213" class="mk"/>
<path d="M322.24 208H328.24M325.24 205V211" class="mk"/>
<path d="M328.68 209.5H334.68M331.68 206.5V212.5" class="mk"/>
<path d="M341.57 214.8H347.57M344.57 211.8V217.8" class="mk"/>
<path d="M354.45 212H360.45M357.45 209V215" class="mk"/>
<path d="M367.33 205H373.33M370.33 202V208" class="mk"/>
<path d="M418.87 207.5H424.87M421.87 204.5V210.5" class="mk"/>
<path d="M470.4 209H476.4M473.4 206V212" class="mk"/>
<path d="M388 275.7H414" class="ln"/>
<path d="M398 275.7H404M401 272.7V278.7" class="mk"/>
<text x="415.3" y="278.2" class="tt">0.1 uM</text>
<path d="M388 283.8H414" class="ln"/>
<path d="M398.6 281.4L403.4 286.2M398.6 286.2L403.4 281.4" class="mk"/>
<text x="415.3" y="286.3" class="tt">1.0 uM</text>
<path d="M388 291.9H414" class="ln"/>
<path d="M401 289.1L403.8 294.14L398.2 294.14Z" class="fm"/>
<text x="415.3" y="294.4" class="tt">2.0 uM</text>
<path d="M388 300H414" class="ln"/>
<rect x="398.65" y="297.65" width="4.7" height="4.7" class="fm"/>
<text x="415.3" y="302.5" class="tt">4 Hourly</text>
<path d="M388 308.1H414" class="dl"/>
<circle cx="401" cy="308.1" r="2.8" class="fm"/>
<text x="415.3" y="310.6" class="tt">Cell Density</text>
<g transform="matrix(1,-0.0038,0.001,1,-0.44,1.51)">
<rect x="281.4" y="358" width="233.4" height="165.5" class="box"/>
<path d="M322.2 367V489.8H467.4M467.4 367V489.8" class="ax"/>
<text x="316.6" y="492.2" class="tk" text-anchor="end">0</text>
<text x="316.6" y="471.73" class="tk" text-anchor="end">2000</text>
<text x="316.6" y="451.27" class="tk" text-anchor="end">4000</text>
<text x="316.6" y="430.8" class="tk" text-anchor="end">6000</text>
<text x="316.6" y="410.33" class="tk" text-anchor="end">8000</text>
<text x="316.6" y="389.87" class="tk" text-anchor="end">10000</text>
<text x="316.6" y="369.4" class="tk" text-anchor="end">12000</text>
<text x="472.6" y="491.3" class="tk">0.1</text>
<text x="472.6" y="450.37" class="tk">1</text>
<text x="472.6" y="409.43" class="tk">10</text>
<text x="472.6" y="368.5" class="tk">100</text>
<text x="322.2" y="502.6" class="tk" text-anchor="middle">0</text>
<text x="346.4" y="502.6" class="tk" text-anchor="middle">4</text>
<text x="370.6" y="502.6" class="tk" text-anchor="middle">8</text>
<text x="394.8" y="502.6" class="tk" text-anchor="middle">12</text>
<text x="419" y="502.6" class="tk" text-anchor="middle">16</text>
<text x="443.2" y="502.6" class="tk" text-anchor="middle">20</text>
<text x="467.4" y="502.6" class="tk" text-anchor="middle">24</text>
<path d="M319.7 489.8H322.2M319.7 469.33H322.2M319.7 448.87H322.2M319.7 428.4H322.2M319.7 407.93H322.2M319.7 387.47H322.2M319.7 367H322.2M465.1 489.8H469.9M465.1 448.87H469.9M465.1 407.93H469.9M465.1 367H469.9M322.2 489.8V492.3M346.4 489.8V492.3M370.6 489.8V492.3M394.8 489.8V492.3M419 489.8V492.3M443.2 489.8V492.3M467.4 489.8V492.3" class="ax"/>
</g>
<text x="263.1" y="371.5" class="let">G</text>
<text transform="translate(294 430.4) rotate(-90)" class="tt" text-anchor="middle"><tspan class="sup" dy="-2.2">3</tspan><tspan dy="2.2">H-TdR Uptake (cpm)</tspan></text>
<text transform="translate(493.75 427.7) rotate(-90)" class="tt" text-anchor="middle">Cell Density</text>
<text transform="translate(502.7 427.7) rotate(-90)" class="tt" text-anchor="middle">(x10<tspan class="sup" dy="-2.2">6</tspan><tspan dy="2.2"> cells/ml)</tspan></text>
<text x="394.8" y="515.2" class="tt" text-anchor="middle">Time in Culture (Hours)</text>
<text x="288" y="516.2" class="nm">N20</text>
<polyline points="322.2,439.3 325.22,439.6 328.25,440.8 334.3,438.1 346.4,437.2 358.5,435.1 370.6,434.2 394.8,428.3 419,425.7 443.2,422.4 467.4,423" class="dl"/>
<circle cx="322.2" cy="439.3" r="2.8" class="fm"/>
<circle cx="325.22" cy="439.6" r="2.8" class="fm"/>
<circle cx="328.25" cy="440.8" r="2.8" class="fm"/>
<circle cx="334.3" cy="438.1" r="2.8" class="fm"/>
<circle cx="346.4" cy="437.2" r="2.8" class="fm"/>
<circle cx="358.5" cy="435.1" r="2.8" class="fm"/>
<circle cx="370.6" cy="434.2" r="2.8" class="fm"/>
<circle cx="394.8" cy="428.3" r="2.8" class="fm"/>
<circle cx="419" cy="425.7" r="2.8" class="fm"/>
<circle cx="443.2" cy="422.4" r="2.8" class="fm"/>
<circle cx="467.4" cy="423" r="2.8" class="fm"/>
<polyline points="322.2,387.8 325.22,388 328.25,388 334.3,389 346.4,389.5 358.5,388 370.6,386.5 394.8,387.7 419,389.6 443.2,387.8 467.4,387" class="ln"/>
<rect x="319.85" y="385.45" width="4.7" height="4.7" class="fm"/>
<rect x="322.87" y="385.65" width="4.7" height="4.7" class="fm"/>
<rect x="325.9" y="385.65" width="4.7" height="4.7" class="fm"/>
<rect x="331.95" y="386.65" width="4.7" height="4.7" class="fm"/>
<rect x="344.05" y="387.15" width="4.7" height="4.7" class="fm"/>
<rect x="356.15" y="385.65" width="4.7" height="4.7" class="fm"/>
<rect x="368.25" y="384.15" width="4.7" height="4.7" class="fm"/>
<rect x="392.45" y="385.35" width="4.7" height="4.7" class="fm"/>
<rect x="416.65" y="387.25" width="4.7" height="4.7" class="fm"/>
<rect x="440.85" y="385.45" width="4.7" height="4.7" class="fm"/>
<rect x="465.05" y="384.65" width="4.7" height="4.7" class="fm"/>
<polyline points="322.2,387.8 325.22,388 328.25,389 334.3,400 346.4,389 358.5,388 370.6,381.5 394.8,393.4 419,399.4 443.2,394.2 467.4,387" class="ln"/>
<path d="M322.2 385L325 390.04L319.4 390.04Z" class="fm"/>
<path d="M325.22 385.2L328.02 390.24L322.42 390.24Z" class="fm"/>
<path d="M328.25 386.2L331.05 391.24L325.45 391.24Z" class="fm"/>
<path d="M334.3 397.2L337.1 402.24L331.5 402.24Z" class="fm"/>
<path d="M346.4 386.2L349.2 391.24L343.6 391.24Z" class="fm"/>
<path d="M358.5 385.2L361.3 390.24L355.7 390.24Z" class="fm"/>
<path d="M370.6 378.7L373.4 383.74L367.8 383.74Z" class="fm"/>
<path d="M394.8 390.6L397.6 395.64L392 395.64Z" class="fm"/>
<path d="M419 396.6L421.8 401.64L416.2 401.64Z" class="fm"/>
<path d="M443.2 391.4L446 396.44L440.4 396.44Z" class="fm"/>
<path d="M467.4 384.2L470.2 389.24L464.6 389.24Z" class="fm"/>
<polyline points="322.2,387.8 325.22,386.5 328.25,386 334.3,389 346.4,393.3 358.5,373.5 370.6,386.5 394.8,396.8 419,406.7 443.2,397.3 467.4,387" class="ln"/>
<path d="M319.8 385.4L324.6 390.2M319.8 390.2L324.6 385.4" class="mk"/>
<path d="M322.82 384.1L327.62 388.9M322.82 388.9L327.62 384.1" class="mk"/>
<path d="M325.85 383.6L330.65 388.4M325.85 388.4L330.65 383.6" class="mk"/>
<path d="M331.9 386.6L336.7 391.4M331.9 391.4L336.7 386.6" class="mk"/>
<path d="M344 390.9L348.8 395.7M344 395.7L348.8 390.9" class="mk"/>
<path d="M356.1 371.1L360.9 375.9M356.1 375.9L360.9 371.1" class="mk"/>
<path d="M368.2 384.1L373 388.9M368.2 388.9L373 384.1" class="mk"/>
<path d="M392.4 394.4L397.2 399.2M392.4 399.2L397.2 394.4" class="mk"/>
<path d="M416.6 404.3L421.4 409.1M416.6 409.1L421.4 404.3" class="mk"/>
<path d="M440.8 394.9L445.6 399.7M440.8 399.7L445.6 394.9" class="mk"/>
<path d="M465 384.6L469.8 389.4M465 389.4L469.8 384.6" class="mk"/>
<polyline points="322.2,387.8 325.22,387 328.25,387 334.3,388 346.4,388 358.5,372.3 370.6,386 394.8,391 419,401 443.2,395 467.4,387" class="ln"/>
<path d="M319.2 387.8H325.2M322.2 384.8V390.8" class="mk"/>
<path d="M322.22 387H328.22M325.22 384V390" class="mk"/>
<path d="M325.25 387H331.25M328.25 384V390" class="mk"/>
<path d="M331.3 388H337.3M334.3 385V391" class="mk"/>
<path d="M343.4 388H349.4M346.4 385V391" class="mk"/>
<path d="M355.5 372.3H361.5M358.5 369.3V375.3" class="mk"/>
<path d="M367.6 386H373.6M370.6 383V389" class="mk"/>
<path d="M391.8 391H397.8M394.8 388V394" class="mk"/>
<path d="M416 401H422M419 398V404" class="mk"/>
<path d="M440.2 395H446.2M443.2 392V398" class="mk"/>
<path d="M464.4 387H470.4M467.4 384V390" class="mk"/>
<path d="M384.2 451.2H410.2" class="ln"/>
<path d="M394.2 451.2H400.2M397.2 448.2V454.2" class="mk"/>
<text x="411.5" y="453.7" class="tt">0.1 uM</text>
<path d="M384.2 458.9H410.2" class="ln"/>
<path d="M394.8 456.5L399.6 461.3M394.8 461.3L399.6 456.5" class="mk"/>
<text x="411.5" y="461.4" class="tt">1.0 uM</text>
<path d="M384.2 466.6H410.2" class="ln"/>
<path d="M397.2 463.8L400 468.84L394.4 468.84Z" class="fm"/>
<text x="411.5" y="469.1" class="tt">2.0 uM</text>
<path d="M384.2 474.3H410.2" class="ln"/>
<rect x="394.85" y="471.95" width="4.7" height="4.7" class="fm"/>
<text x="411.5" y="476.8" class="tt">4 Hourly</text>
<path d="M384.2 482H410.2" class="dl"/>
<circle cx="397.2" cy="482" r="2.8" class="fm"/>
<text x="411.5" y="484.5" class="tt">Cell Density</text>
<g transform="matrix(1,-0.0038,0.001,1,-0.62,1.51)">
<rect x="281.5" y="535.4" width="233.6" height="166.35" class="box"/>
<path d="M323.6 545V667.4H468.1M468.1 545V667.4" class="ax"/>
<text x="318" y="669.8" class="tk" text-anchor="end">0</text>
<text x="318" y="649.4" class="tk" text-anchor="end">2000</text>
<text x="318" y="629" class="tk" text-anchor="end">4000</text>
<text x="318" y="608.6" class="tk" text-anchor="end">6000</text>
<text x="318" y="588.2" class="tk" text-anchor="end">8000</text>
<text x="318" y="567.8" class="tk" text-anchor="end">10000</text>
<text x="318" y="547.4" class="tk" text-anchor="end">12000</text>
<text x="473.3" y="668.9" class="tk">0.1</text>
<text x="473.3" y="628.1" class="tk">1</text>
<text x="473.3" y="587.3" class="tk">10</text>
<text x="473.3" y="546.5" class="tk">100</text>
<text x="323.6" y="680.2" class="tk" text-anchor="middle">0</text>
<text x="347.68" y="680.2" class="tk" text-anchor="middle">4</text>
<text x="371.77" y="680.2" class="tk" text-anchor="middle">8</text>
<text x="395.85" y="680.2" class="tk" text-anchor="middle">12</text>
<text x="419.93" y="680.2" class="tk" text-anchor="middle">16</text>
<text x="444.02" y="680.2" class="tk" text-anchor="middle">20</text>
<text x="468.1" y="680.2" class="tk" text-anchor="middle">24</text>
<path d="M321.1 667.4H323.6M321.1 647H323.6M321.1 626.6H323.6M321.1 606.2H323.6M321.1 585.8H323.6M321.1 565.4H323.6M321.1 545H323.6M465.8 667.4H470.6M465.8 626.6H470.6M465.8 585.8H470.6M465.8 545H470.6M323.6 667.4V669.9M347.68 667.4V669.9M371.77 667.4V669.9M395.85 667.4V669.9M419.93 667.4V669.9M444.02 667.4V669.9M468.1 667.4V669.9" class="ax"/>
</g>
<text x="263.8" y="548.8" class="let">H</text>
<text transform="translate(296.5 606.2) rotate(-90)" class="tt" text-anchor="middle"><tspan class="sup" dy="-2.2">3</tspan><tspan dy="2.2">H-TdR Uptake (cpm)</tspan></text>
<text transform="translate(488.85 604.8) rotate(-90)" class="tt" text-anchor="middle">Cell Density</text>
<text transform="translate(499.55 604.8) rotate(-90)" class="tt" text-anchor="middle">(x10<tspan class="sup" dy="-2.2">6</tspan><tspan dy="2.2"> cells/ml)</tspan></text>
<text x="395.85" y="690.2" class="tt" text-anchor="middle">Time in Culture (Hours)</text>
<text x="288" y="693.5" class="nm">X20</text>
<polyline points="323.6,617.2 326.61,618.1 329.62,618.7 335.64,618.1 347.68,615.8 359.73,614.3 371.77,613.1 395.85,607.8 419.93,604.2 444.02,601.3 468.1,601.8" class="dl"/>
<circle cx="323.6" cy="617.2" r="2.8" class="fm"/>
<circle cx="326.61" cy="618.1" r="2.8" class="fm"/>
<circle cx="329.62" cy="618.7" r="2.8" class="fm"/>
<circle cx="335.64" cy="618.1" r="2.8" class="fm"/>
<circle cx="347.68" cy="615.8" r="2.8" class="fm"/>
<circle cx="359.73" cy="614.3" r="2.8" class="fm"/>
<circle cx="371.77" cy="613.1" r="2.8" class="fm"/>
<circle cx="395.85" cy="607.8" r="2.8" class="fm"/>
<circle cx="419.93" cy="604.2" r="2.8" class="fm"/>
<circle cx="444.02" cy="601.3" r="2.8" class="fm"/>
<circle cx="468.1" cy="601.8" r="2.8" class="fm"/>
<polyline points="323.6,565 326.61,565 329.62,565.5 335.64,566.8 347.68,568.8 359.73,567.5 371.77,566.7 395.85,564 419.93,561.4 444.02,573.6 468.1,565.8" class="ln"/>
<rect x="321.25" y="562.65" width="4.7" height="4.7" class="fm"/>
<rect x="324.26" y="562.65" width="4.7" height="4.7" class="fm"/>
<rect x="327.27" y="563.15" width="4.7" height="4.7" class="fm"/>
<rect x="333.29" y="564.45" width="4.7" height="4.7" class="fm"/>
<rect x="345.33" y="566.45" width="4.7" height="4.7" class="fm"/>
<rect x="357.38" y="565.15" width="4.7" height="4.7" class="fm"/>
<rect x="369.42" y="564.35" width="4.7" height="4.7" class="fm"/>
<rect x="393.5" y="561.65" width="4.7" height="4.7" class="fm"/>
<rect x="417.58" y="559.05" width="4.7" height="4.7" class="fm"/>
<rect x="441.67" y="571.25" width="4.7" height="4.7" class="fm"/>
<rect x="465.75" y="563.45" width="4.7" height="4.7" class="fm"/>
<polyline points="323.6,565 326.61,566 329.62,566 335.64,580 347.68,566 359.73,551.5 371.77,566 395.85,573.6 419.93,581.9 444.02,570.1 468.1,557.1" class="ln"/>
<path d="M323.6 562.2L326.4 567.24L320.8 567.24Z" class="fm"/>
<path d="M326.61 563.2L329.41 568.24L323.81 568.24Z" class="fm"/>
<path d="M329.62 563.2L332.42 568.24L326.82 568.24Z" class="fm"/>
<path d="M335.64 577.2L338.44 582.24L332.84 582.24Z" class="fm"/>
<path d="M347.68 563.2L350.48 568.24L344.88 568.24Z" class="fm"/>
<path d="M359.73 548.7L362.53 553.74L356.93 553.74Z" class="fm"/>
<path d="M371.77 563.2L374.57 568.24L368.97 568.24Z" class="fm"/>
<path d="M395.85 570.8L398.65 575.84L393.05 575.84Z" class="fm"/>
<path d="M419.93 579.1L422.73 584.14L417.13 584.14Z" class="fm"/>
<path d="M444.02 567.3L446.82 572.34L441.22 572.34Z" class="fm"/>
<path d="M468.1 554.3L470.9 559.34L465.3 559.34Z" class="fm"/>
<polyline points="323.6,565 326.61,562 329.62,559.2 335.64,562 347.68,556.5 359.73,550.5 371.77,559 395.85,566 419.93,571.8 444.02,566.6 468.1,560.6" class="ln"/>
<path d="M321.2 562.6L326 567.4M321.2 567.4L326 562.6" class="mk"/>
<path d="M324.21 559.6L329.01 564.4M324.21 564.4L329.01 559.6" class="mk"/>
<path d="M327.22 556.8L332.02 561.6M327.22 561.6L332.02 556.8" class="mk"/>
<path d="M333.24 559.6L338.04 564.4M333.24 564.4L338.04 559.6" class="mk"/>
<path d="M345.28 554.1L350.08 558.9M345.28 558.9L350.08 554.1" class="mk"/>
<path d="M357.33 548.1L362.12 552.9M357.33 552.9L362.12 548.1" class="mk"/>
<path d="M369.37 556.6L374.17 561.4M369.37 561.4L374.17 556.6" class="mk"/>
<path d="M393.45 563.6L398.25 568.4M393.45 568.4L398.25 563.6" class="mk"/>
<path d="M417.53 569.4L422.33 574.2M417.53 574.2L422.33 569.4" class="mk"/>
<path d="M441.62 564.2L446.42 569M441.62 569L446.42 564.2" class="mk"/>
<path d="M465.7 558.2L470.5 563M465.7 563L470.5 558.2" class="mk"/>
<polyline points="323.6,565 326.61,574 329.62,565 335.64,566 347.68,569.6 359.73,565.8 371.77,572.7 395.85,566.6 419.93,565.8 444.02,561.4 468.1,557.5" class="ln"/>
<path d="M320.6 565H326.6M323.6 562V568" class="mk"/>
<path d="M323.61 574H329.61M326.61 571V577" class="mk"/>
<path d="M326.62 565H332.62M329.62 562V568" class="mk"/>
<path d="M332.64 566H338.64M335.64 563V569" class="mk"/>
<path d="M344.68 569.6H350.68M347.68 566.6V572.6" class="mk"/>
<path d="M356.73 565.8H362.73M359.73 562.8V568.8" class="mk"/>
<path d="M368.77 572.7H374.77M371.77 569.7V575.7" class="mk"/>
<path d="M392.85 566.6H398.85M395.85 563.6V569.6" class="mk"/>
<path d="M416.93 565.8H422.93M419.93 562.8V568.8" class="mk"/>
<path d="M441.02 561.4H447.02M444.02 558.4V564.4" class="mk"/>
<path d="M465.1 557.5H471.1M468.1 554.5V560.5" class="mk"/>
<path d="M388.1 629H414.1" class="ln"/>
<path d="M398.1 629H404.1M401.1 626V632" class="mk"/>
<text x="415.4" y="631.5" class="tt">0.1 uM</text>
<path d="M388.1 636.6H414.1" class="ln"/>
<path d="M398.7 634.2L403.5 639M398.7 639L403.5 634.2" class="mk"/>
<text x="415.4" y="639.1" class="tt">1.0 uM</text>
<path d="M388.1 644.2H414.1" class="ln"/>
<path d="M401.1 641.4L403.9 646.44L398.3 646.44Z" class="fm"/>
<text x="415.4" y="646.7" class="tt">2.0 uM</text>
<path d="M388.1 651.8H414.1" class="ln"/>
<rect x="398.75" y="649.45" width="4.7" height="4.7" class="fm"/>
<text x="415.4" y="654.3" class="tt">4 Hourly</text>
<path d="M388.1 659.4H414.1" class="dl"/>
<circle cx="401.1" cy="659.4" r="2.8" class="fm"/>
<text x="415.4" y="661.9" class="tt">Cell Density</text>
</svg>
</body></html>
